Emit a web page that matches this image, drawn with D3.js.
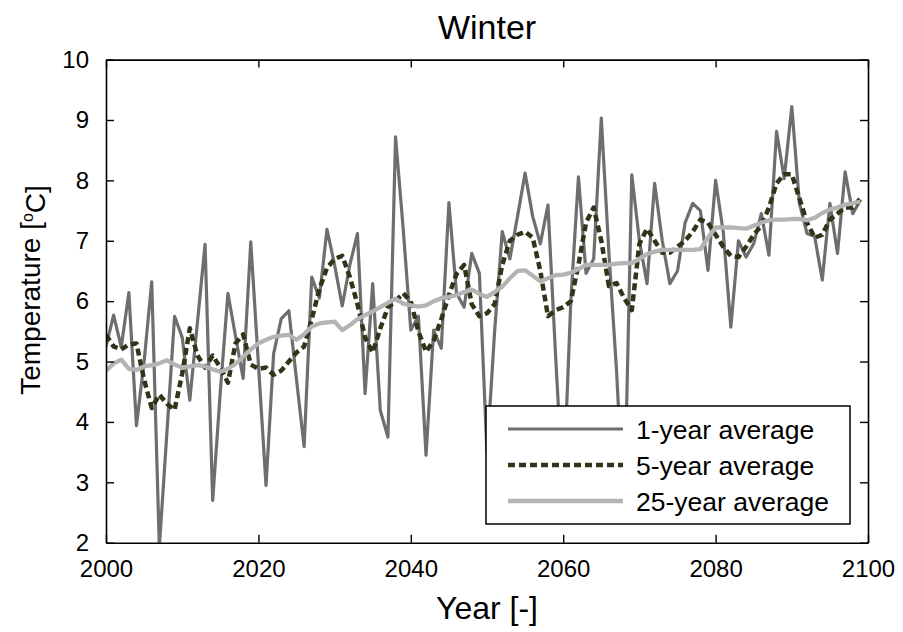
<!DOCTYPE html>
<html>
<head>
<meta charset="utf-8">
<script src="https://cdn.jsdelivr.net/npm/d3@7"></script>
<style>
  body { margin: 0; background: #fff; }
  svg { font-family: "Liberation Sans", Arial, sans-serif; }
</style>
</head>
<body>
<div class="graph"></div>
<script>
// winter temperatures, one value per year 2000..2099
const years = d3.range(2000, 2100);
const oneYear = [
  5.25, 5.77, 5.24, 6.14, 3.94, 5.0, 6.32, 1.93, 3.84, 5.75,
  5.4, 4.36, 5.65, 6.94, 2.70, 4.5, 6.13, 5.42, 4.72, 6.98,
  4.96, 2.95, 5.13, 5.71, 5.84, 4.7, 3.59, 6.40, 6.05, 7.19,
  6.6, 5.92, 6.6, 7.12, 4.47, 6.29, 4.19, 3.75, 8.72, 7.2,
  5.52, 5.75, 3.45, 5.52, 5.22, 7.63, 6.13, 5.9, 6.79, 6.46,
  3.48, 5.5, 7.15, 6.7, 7.4, 8.12, 7.4, 6.95, 7.59, 5.1,
  2.8, 6.0, 8.06, 6.46, 6.7, 9.03, 6.8, 4.85, 2.4, 8.09,
  7.0, 6.29, 7.95, 7.0, 6.29, 6.5, 7.3, 7.62, 7.5, 6.51,
  8.0, 7.15, 5.57, 7.0, 6.73, 6.95, 7.45, 6.76, 8.81, 8.03,
  9.22, 7.62, 7.12, 7.07, 6.35, 7.62, 6.79, 8.14, 7.45, 7.67
];
const fiveYear = [
  5.44, 5.25, 5.2, 5.28, 5.3, 4.7, 4.23, 4.45, 4.3, 4.2,
  4.8, 5.55, 5.1, 4.9, 5.1, 4.9, 4.65, 5.3, 5.45, 4.95,
  4.88, 4.9, 4.78, 4.85, 5.0, 5.15, 5.25, 5.7, 6.2, 6.55,
  6.7, 6.75, 6.4, 5.95, 5.4, 5.15, 5.55, 5.9, 6.0, 6.13,
  6.0, 5.5, 5.16, 5.35, 5.7, 6.1, 6.45, 6.6, 5.95, 5.75,
  5.8, 5.95, 6.6, 7.0, 7.1, 7.15, 7.05, 6.5, 5.75, 5.85,
  5.9, 6.0, 6.6, 7.3, 7.55, 7.0, 6.25, 6.3, 6.05, 5.85,
  6.95, 7.2, 7.0, 6.8, 6.8, 6.9, 7.0, 7.15, 7.35, 7.3,
  7.1, 6.9, 6.75, 6.73, 6.9, 7.1, 7.25, 7.55, 7.95, 8.1,
  8.1, 7.7, 7.3, 7.05, 7.1, 7.35, 7.45, 7.55, 7.55, 7.7
];
const twentyFiveYear = [
  4.85, 4.97, 5.03, 4.88, 4.86, 4.92, 4.94, 4.97, 5.02, 4.95,
  4.9, 4.92, 4.94, 4.92, 4.87, 4.83, 4.88, 4.96, 5.08, 5.2,
  5.3, 5.36, 5.41, 5.43, 5.44, 5.36, 5.45, 5.58, 5.63, 5.65,
  5.66, 5.52, 5.6, 5.7, 5.77, 5.83, 5.9, 5.97, 6.04, 5.96,
  5.93, 5.91, 5.93, 6.0, 6.05, 6.07, 6.1, 6.15, 6.19, 6.12,
  6.07, 6.15, 6.24, 6.38, 6.5, 6.51, 6.42, 6.33, 6.38, 6.43,
  6.44, 6.47, 6.53, 6.6, 6.6, 6.6, 6.6, 6.62, 6.63, 6.63,
  6.7, 6.78, 6.82, 6.85, 6.85, 6.85, 6.85, 6.85, 6.86, 7.05,
  7.22, 7.22, 7.22, 7.21, 7.2, 7.25, 7.3, 7.34, 7.35, 7.35,
  7.36, 7.36, 7.34, 7.38, 7.46, 7.52, 7.55, 7.6, 7.62, 7.65
];
const xTicks = [2000, 2020, 2040, 2060, 2080, 2100];
const yTicks = [2, 3, 4, 5, 6, 7, 8, 9, 10];
const seriesNames = ['1-year average', '5-year average', '25-year average'];

const width = 903, height = 632;
const margin = { top: 59.6, bottom: 89.3, left: 106, right: 35 };
const chartWidth = width - margin.left - margin.right;
const chartHeight = height - margin.top - margin.bottom;

const svg = d3.select('.graph')
  .append('svg')
  .attr('width', width)
  .attr('height', height);

const chart = svg.append('g')
  .attr('transform', `translate(${margin.left},${margin.top})`);

const xScale = d3.scaleLinear().domain([2000, 2100]).range([0, chartWidth]);
const yScale = d3.scaleLinear().domain([2, 10]).range([chartHeight, 0]);

chart.append('clipPath').attr('id', 'plot-clip')
  .append('rect').attr('width', chartWidth).attr('height', chartHeight);

const styles = [
  { values: oneYear, color: '#6e6e6e', width: 3.2, dash: null },
  { values: fiveYear, color: '#333319', width: 4.5, dash: '7,4' },
  { values: twentyFiveYear, color: '#b4b4b4', width: 4.3, dash: null }
];

const line = d3.line()
  .x(d => xScale(d[0]))
  .y(d => yScale(d[1]));

const plot = chart.append('g').attr('clip-path', 'url(#plot-clip)');
styles.forEach(s => {
  plot.append('path')
    .datum(years.map((y, i) => [y, s.values[i]]))
    .attr('fill', 'none')
    .attr('stroke', s.color)
    .attr('stroke-width', s.width)
    .attr('stroke-dasharray', s.dash)
    .attr('stroke-linejoin', 'round')
    .attr('d', line);
});

// axes, ticks pointing inward on all four sides
const tickLen = 8;
chart.append('g')
  .attr('class', 'x axis')
  .attr('transform', `translate(0,${chartHeight})`)
  .call(d3.axisBottom(xScale).tickValues(xTicks).tickFormat(d3.format('d'))
    .tickSizeInner(-tickLen).tickSizeOuter(0).tickPadding(17));
chart.append('g')
  .call(d3.axisTop(xScale).tickValues(xTicks).tickFormat('')
    .tickSizeInner(-tickLen).tickSizeOuter(0));
chart.append('g')
  .attr('class', 'y axis')
  .call(d3.axisLeft(yScale).tickValues(yTicks)
    .tickSizeInner(-tickLen).tickSizeOuter(0).tickPadding(17));
chart.append('g')
  .attr('transform', `translate(${chartWidth},0)`)
  .call(d3.axisRight(yScale).tickValues(yTicks).tickFormat('')
    .tickSizeInner(-tickLen).tickSizeOuter(0));

chart.selectAll('.domain').attr('stroke', '#000').attr('stroke-width', 1.6);
chart.selectAll('.tick line').attr('stroke', '#000').attr('stroke-width', 1.4);
chart.selectAll('.tick text')
  .attr('fill', '#000')
  .style('font-size', '24px');

// legend
const legend = chart.append('g')
  .attr('transform', `translate(${486 - margin.left},${406 - margin.top})`);
legend.append('rect')
  .attr('width', 364)
  .attr('height', 118)
  .attr('fill', '#fff')
  .attr('stroke', '#000')
  .attr('stroke-width', 1.5);
styles.forEach((s, i) => {
  const ly = 23 + i * 36;
  legend.append('line')
    .attr('x1', 22).attr('x2', 137)
    .attr('y1', ly).attr('y2', ly)
    .attr('stroke', s.color)
    .attr('stroke-width', s.width)
    .attr('stroke-dasharray', s.dash);
  legend.append('text')
    .attr('x', 150)
    .attr('y', ly)
    .attr('dy', '0.36em')
    .style('font-size', '26.5px')
    .text(seriesNames[i]);
});

// titles
svg.append('text')
  .attr('x', margin.left + chartWidth / 2)
  .attr('y', 39)
  .style('text-anchor', 'middle')
  .style('font-size', '34px')
  .text('Winter');
svg.append('text')
  .attr('x', margin.left + chartWidth / 2)
  .attr('y', 619)
  .style('text-anchor', 'middle')
  .style('font-size', '32px')
  .text('Year [-]');
const yLabel = svg.append('text')
  .attr('transform', 'translate(40,290) rotate(-90)')
  .style('text-anchor', 'middle')
  .style('font-size', '28px');
yLabel.append('tspan').text('Temperature [');
yLabel.append('tspan').attr('dy', '-0.45em').style('font-size', '16px').text('o');
yLabel.append('tspan').attr('dy', '0.45em').text('C]');
</script>
</body>
</html>
